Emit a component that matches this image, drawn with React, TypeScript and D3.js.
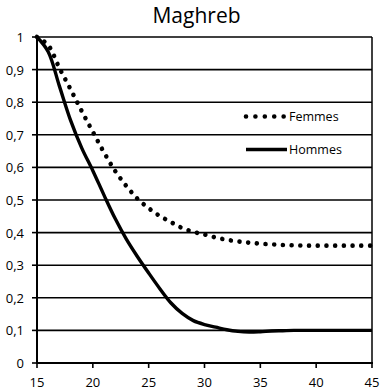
import React from "react";
import * as d3 from "d3";

// Age (years) and share of never-married people by sex
const ages = [15, 16, 17, 18, 19, 20, 21, 22, 23, 24, 25, 26, 27, 28, 29, 30, 31, 32, 33, 34, 35, 36, 37, 38, 39, 40, 41, 42, 43, 44, 45];
const femmes = [1.0, 0.975, 0.905, 0.84, 0.773, 0.709, 0.646, 0.589, 0.543, 0.504, 0.475, 0.451, 0.432, 0.414, 0.402, 0.394, 0.385, 0.378, 0.373, 0.369, 0.366, 0.364, 0.362, 0.361, 0.36, 0.36, 0.36, 0.36, 0.36, 0.36, 0.36];
const hommes = [1.0, 0.955, 0.85, 0.745, 0.66, 0.59, 0.515, 0.443, 0.38, 0.326, 0.276, 0.228, 0.184, 0.152, 0.13, 0.118, 0.11, 0.102, 0.097, 0.095, 0.096, 0.098, 0.099, 0.1, 0.1, 0.1, 0.1, 0.1, 0.1, 0.1, 0.1];

const xTicks = [15, 20, 25, 30, 35, 40, 45];
const yTicks = [0, 0.1, 0.2, 0.3, 0.4, 0.5, 0.6, 0.7, 0.8, 0.9, 1];
const title = "Maghreb";
const legendLabels = ["Femmes", "Hommes"];

const W = 380;
const H = 392;
const left = 37;
const right = 372;
const top = 37;
const bottom = 363;
const font = "'Open Sans', 'Noto Sans', sans-serif";

const fmt = (v: number) => (v === 0 || v === 1 ? String(v) : v.toFixed(1).replace(".", ","));

export default function App() {
  const x = d3.scaleLinear().domain([15, 45]).range([left, right]);
  const y = d3.scaleLinear().domain([0, 1]).range([bottom, top]);

  const line = (vals: number[]) =>
    d3
      .line<number>()
      .x((_, i) => x(ages[i]))
      .y((v) => y(v))
      .curve(d3.curveCatmullRom.alpha(0.5))(vals) || "";

  return (
    <svg
      width={W}
      height={H}
      style={{ position: "absolute", left: 0, top: 0, background: "#fff" }}
      fontFamily={font}
    >
      <rect width={W} height={H} fill="#fff" />
      <text x={196.5} y={22.5} textAnchor="middle" fontSize={21} fill="#000">
        {title}
      </text>

      {/* horizontal gridlines */}
      {yTicks
        .filter((t) => t > 0)
        .map((t) => (
          <line key={t} x1={left} x2={right} y1={y(t)} y2={y(t)} stroke="#000" strokeWidth={1.6} />
        ))}
      {/* right frame */}
      <line x1={right} x2={right} y1={top} y2={bottom} stroke="#000" strokeWidth={1.5} />

      {/* y axis */}
      <line x1={left} x2={left} y1={top - 1} y2={bottom + 1} stroke="#000" strokeWidth={2} />
      {yTicks.map((t) => (
        <g key={t}>
          <line x1={left - 5} x2={left} y1={y(t)} y2={y(t)} stroke="#000" strokeWidth={1.6} />
          <text x={24} y={y(t) + 5} textAnchor="end" fontSize={13} fill="#000">
            {fmt(t)}
          </text>
        </g>
      ))}

      {/* x axis */}
      <line x1={left - 1} x2={right + 1} y1={bottom} y2={bottom} stroke="#000" strokeWidth={2} />
      {xTicks.map((t) => (
        <g key={t}>
          <line x1={x(t)} x2={x(t)} y1={bottom} y2={bottom + 5} stroke="#000" strokeWidth={1.6} />
          <text x={x(t)} y={387} textAnchor="middle" fontSize={13} fill="#000">
            {t}
          </text>
        </g>
      ))}

      {/* series */}
      <path
        d={line(femmes)}
        fill="none"
        stroke="#000"
        strokeWidth={4.6}
        strokeLinecap="round"
        strokeDasharray="0.01 8.7"
      />
      <path d={line(hommes)} fill="none" stroke="#000" strokeWidth={3.4} />

      {/* legend */}
      <line x1={246} x2={284} y1={116.5} y2={116.5} stroke="#000" strokeWidth={4.6} strokeLinecap="round" strokeDasharray="0.01 9.4" />
      <text x={289} y={121} fontSize={12.5} fill="#000">
        {legendLabels[0]}
      </text>
      <line x1={246} x2={287} y1={149.5} y2={149.5} stroke="#000" strokeWidth={3.4} />
      <text x={289} y={154} fontSize={12.5} fill="#000">
        {legendLabels[1]}
      </text>
    </svg>
  );
}
